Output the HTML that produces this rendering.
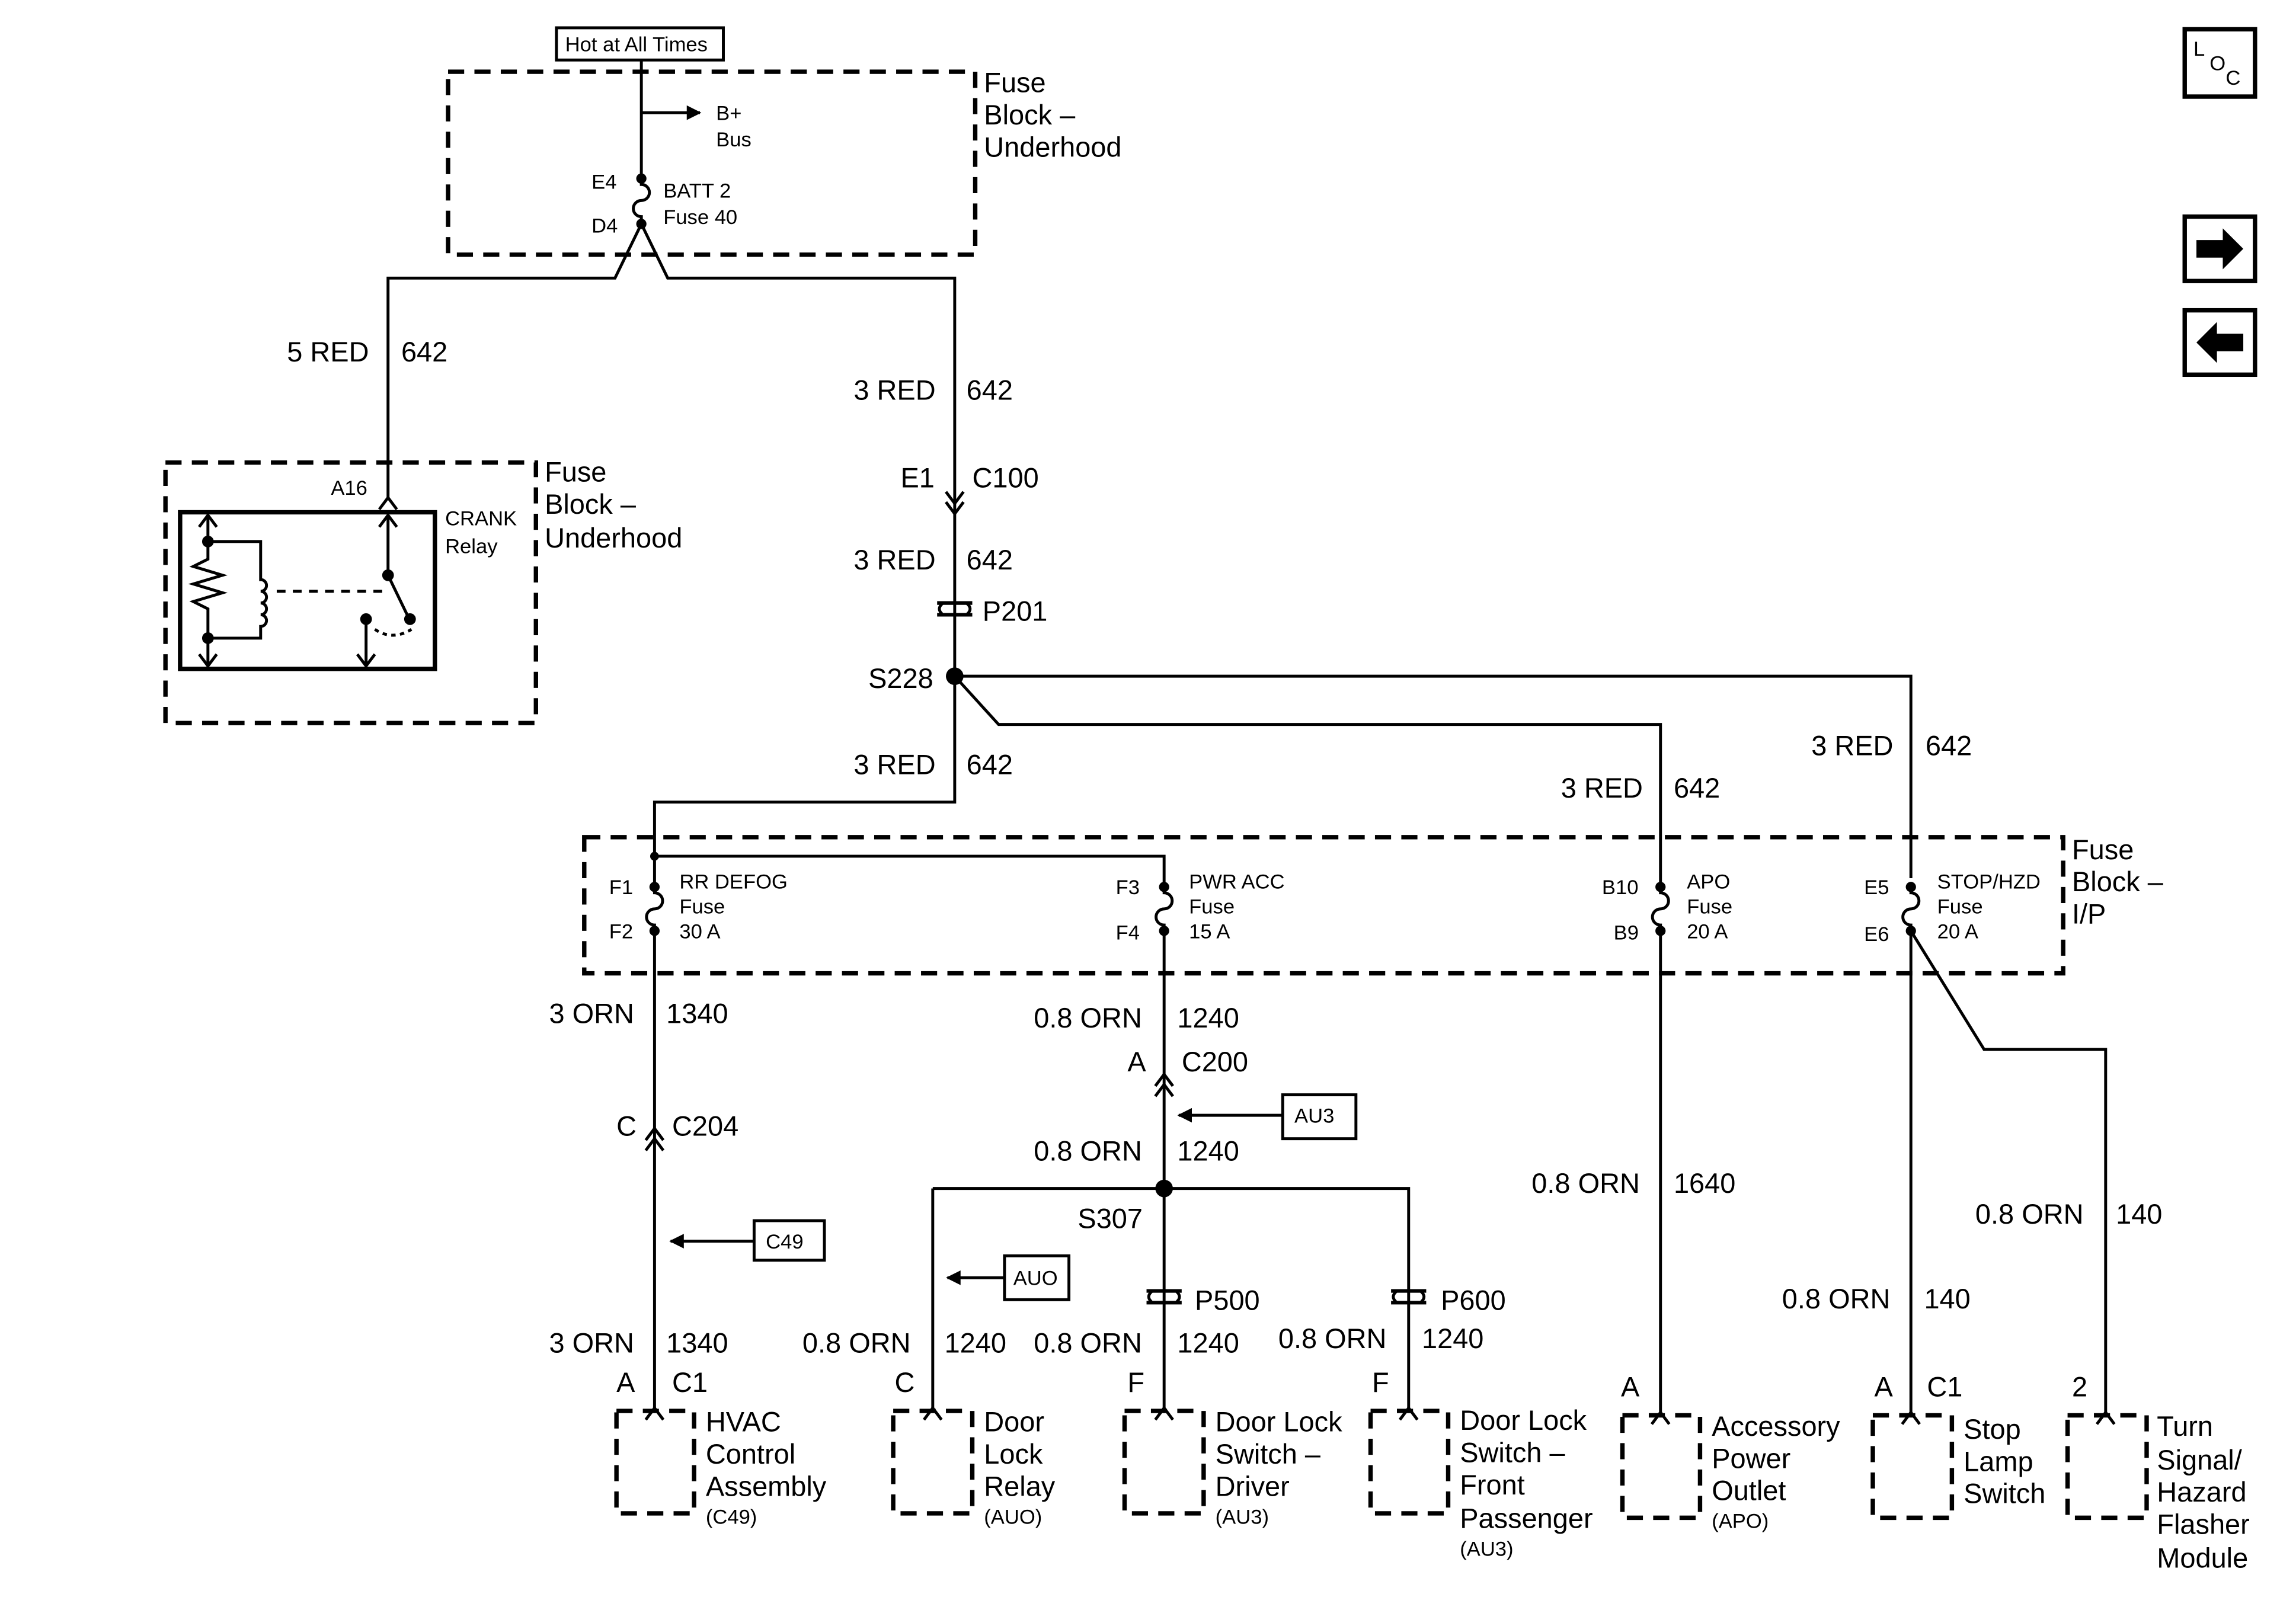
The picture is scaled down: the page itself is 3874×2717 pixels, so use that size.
<!DOCTYPE html>
<html><head><meta charset="utf-8"><style>
html,body{margin:0;padding:0;background:#fff}
svg{display:block}
text{font-family:"Liberation Sans",Arial,sans-serif;fill:#000}
.l{font-size:19px}.s{font-size:14px}
</style></head><body>
<svg width="3874" height="2717" viewBox="0 0 1568 1100" preserveAspectRatio="none" xmlns="http://www.w3.org/2000/svg">
<defs>
<marker id="ah" markerWidth="10" markerHeight="10" refX="9" refY="5" orient="auto" markerUnits="userSpaceOnUse"><path d="M0,0 L10,5 L0,10 z" fill="#000"/></marker>
</defs>
<rect width="1568" height="1100" fill="#fff"/>
<g fill="none" stroke="#000" stroke-width="2">
<g stroke-width="3" stroke-dasharray="11,7">
<rect x="306" y="49" width="360" height="125"/>
<rect x="113" y="316" width="253" height="178"/>
<rect x="399" y="572" width="1010" height="93"/>
<rect x="421" y="964" width="53" height="70"/>
<rect x="610" y="964" width="54" height="70"/>
<rect x="768" y="964" width="54" height="70"/>
<rect x="936" y="964" width="53" height="70"/>
<rect x="1108" y="967" width="53" height="70"/>
<rect x="1279" y="967" width="54" height="70"/>
<rect x="1412" y="967" width="54" height="70"/>
</g>
<rect x="380" y="19" width="114" height="22" stroke-width="2"/>
<path d="M438,41 V122"/>
<path d="M438,77 H478" marker-end="url(#ah)"/>
<path d="M438,122 v4 a5,5 0 0 1 0,11 a5,5 0 0 0 0,11 v5"/>
<path d="M438,153 L420,190 H265 V340"/>
<path d="M438,153 L456,190 H652 V462"/>
<path d="M259,348 L265,340 L271,348"/>
<path d="M646,336 L652,344 L658,336 M646,343 L652,351 L658,343"/>
<path d="M640,412 H664 M640,420 H664" stroke-width="2.5"/>
<path d="M644,412 q-5,4 0,8 M660,412 q5,4 0,8"/>
<rect x="123" y="350" width="174" height="107" stroke-width="3"/>
<path d="M142,352 V372 M142,432 V455"/>
<path d="M136,360 L142,352 L148,360 M136,447 L142,455 L148,447"/>
<path d="M142,372 V382 l-10,5 l20,6 l-20,6 l20,6 l-20,6 l10,5 V432"/>
<path d="M142,370 H178 V396 a4,4 0 0 1 0,8 a4,4 0 0 1 0,8 a4,4 0 0 1 0,8 a4,4 0 0 1 0,8 V436 H142"/>
<path d="M189,404 H262" stroke-dasharray="6,5"/>
<path d="M265,352 V393 L279,422"/>
<path d="M259,360 L265,352 L271,360"/>
<path d="M250,423 V455 M244,447 L250,455 L256,447"/>
<path d="M256,430 q12,8 25,0" stroke-dasharray="3,3"/>
<path d="M652,462 H1305 V600"/>
<path d="M652,462 L682,495 H1134 V603"/>
<path d="M652,462 V548 H447 V606"/>
<path d="M447,585 H795 V606"/>
<path d="M447,606 v4 a5,5 0 0 1 0,11 a5,5 0 0 0 0,11 v4"/>
<path d="M795,606 v4 a5,5 0 0 1 0,11 a5,5 0 0 0 0,11 v4"/>
<path d="M1134,606 v4 a5,5 0 0 1 0,11 a5,5 0 0 0 0,11 v4"/>
<path d="M1305,606 v4 a5,5 0 0 1 0,11 a5,5 0 0 0 0,11 v4"/>
<path d="M447,636 V962"/>
<path d="M795,636 V962"/>
<path d="M1134,636 V965"/>
<path d="M1305,636 V965"/>
<path d="M1305,636 L1355,717 H1438 V965"/>
<path d="M637,812 H962 V962 M637,812 V962"/>
<path d="M441,779 L447,771 L453,779 M441,786 L447,778 L453,786"/>
<path d="M789,742 L795,734 L801,742 M789,749 L795,741 L801,749"/>
<path d="M515,848 H458" marker-end="url(#ah)"/>
<rect x="515" y="834" width="48" height="27"/>
<path d="M876,762 H805" marker-end="url(#ah)"/>
<rect x="876" y="748" width="50" height="30"/>
<path d="M686,873 H647" marker-end="url(#ah)"/>
<rect x="686" y="858" width="44" height="30"/>
<path d="M783,882 H807 M783,890 H807 M950,882 H974 M950,890 H974" stroke-width="2.5"/>
<path d="M787,882 q-5,4 0,8 M803,882 q5,4 0,8 M954,882 q-5,4 0,8 M970,882 q5,4 0,8"/>
<path d="M441,970 L447,962 L453,970 M631,970 L637,962 L643,970 M789,970 L795,962 L801,970 M956,970 L962,962 L968,970 M1128,973 L1134,965 L1140,973 M1299,973 L1305,965 L1311,973 M1432,973 L1438,965 L1444,973"/>
<rect x="1492" y="20" width="48" height="46" stroke-width="3"/>
<rect x="1492" y="148" width="48" height="44" stroke-width="3"/>
<rect x="1492" y="212" width="48" height="44" stroke-width="3"/>
</g>
<g fill="#000">
<circle cx="438" cy="122" r="3.5"/><circle cx="438" cy="153" r="3.5"/>
<circle cx="142" cy="370" r="4"/><circle cx="142" cy="436" r="4"/>
<circle cx="265" cy="393" r="4"/><circle cx="250" cy="423" r="4"/><circle cx="280" cy="423" r="4"/>
<circle cx="652" cy="462" r="6"/><circle cx="795" cy="812" r="6"/>
<circle cx="447" cy="585" r="3"/>
<circle cx="447" cy="606" r="3.5"/><circle cx="447" cy="636" r="3.5"/>
<circle cx="795" cy="606" r="3.5"/><circle cx="795" cy="636" r="3.5"/>
<circle cx="1134" cy="606" r="3.5"/><circle cx="1134" cy="636" r="3.5"/>
<circle cx="1305" cy="606" r="3.5"/><circle cx="1305" cy="636" r="3.5"/>
<path d="M1500,164 H1518 V156 L1532,170 L1518,184 V176 H1500 z"/>
<path d="M1532,228 H1514 V220 L1500,234 L1514,248 V240 H1532 z"/>
</g>
<text class="s" x="386" y="35">Hot at All Times</text>
<text class="l" x="672" y="63">Fuse</text><text class="l" x="672" y="85">Block –</text><text class="l" x="672" y="107">Underhood</text>
<text class="s" x="489" y="82">B+</text><text class="s" x="489" y="100">Bus</text>
<text class="s" x="404" y="129">E4</text><text class="s" x="404" y="159">D4</text>
<text class="s" x="453" y="135">BATT 2</text><text class="s" x="453" y="153">Fuse 40</text>
<text class="l" x="196" y="247">5 RED</text><text class="l" x="274" y="247">642</text>
<text class="l" x="583" y="273">3 RED</text><text class="l" x="660" y="273">642</text>
<text class="s" x="226" y="338">A16</text>
<text class="l" x="372" y="329">Fuse</text><text class="l" x="372" y="351">Block –</text><text class="l" x="372" y="374">Underhood</text>
<text class="s" x="304" y="359">CRANK</text><text class="s" x="304" y="378">Relay</text>
<text class="l" x="615" y="333">E1</text><text class="l" x="664" y="333">C100</text>
<text class="l" x="583" y="389">3 RED</text><text class="l" x="660" y="389">642</text>
<text class="l" x="671" y="424">P201</text>
<text class="l" x="593" y="470">S228</text>
<text class="l" x="583" y="529">3 RED</text><text class="l" x="660" y="529">642</text>
<text class="l" x="1066" y="545">3 RED</text><text class="l" x="1143" y="545">642</text>
<text class="l" x="1237" y="516">3 RED</text><text class="l" x="1315" y="516">642</text>
<text class="l" x="1415" y="587">Fuse</text><text class="l" x="1415" y="609">Block –</text><text class="l" x="1415" y="631">I/P</text>
<text class="s" x="416" y="611">F1</text><text class="s" x="416" y="641">F2</text>
<text class="s" x="464" y="607">RR DEFOG</text><text class="s" x="464" y="624">Fuse</text><text class="s" x="464" y="641">30 A</text>
<text class="s" x="762" y="611">F3</text><text class="s" x="762" y="642">F4</text>
<text class="s" x="812" y="607">PWR ACC</text><text class="s" x="812" y="624">Fuse</text><text class="s" x="812" y="641">15 A</text>
<text class="s" x="1094" y="611">B10</text><text class="s" x="1102" y="642">B9</text>
<text class="s" x="1152" y="607">APO</text><text class="s" x="1152" y="624">Fuse</text><text class="s" x="1152" y="641">20 A</text>
<text class="s" x="1273" y="611">E5</text><text class="s" x="1273" y="643">E6</text>
<text class="s" x="1323" y="607">STOP/HZD</text><text class="s" x="1323" y="624">Fuse</text><text class="s" x="1323" y="641">20 A</text>
<text class="l" x="375" y="699">3 ORN</text><text class="l" x="455" y="699">1340</text>
<text class="l" x="706" y="702">0.8 ORN</text><text class="l" x="804" y="702">1240</text>
<text class="l" x="770" y="732">A</text><text class="l" x="807" y="732">C200</text>
<text class="s" x="884" y="767">AU3</text>
<text class="l" x="421" y="776">C</text><text class="l" x="459" y="776">C204</text>
<text class="l" x="706" y="793">0.8 ORN</text><text class="l" x="804" y="793">1240</text>
<text class="l" x="1046" y="815">0.8 ORN</text><text class="l" x="1143" y="815">1640</text>
<text class="l" x="1349" y="836">0.8 ORN</text><text class="l" x="1445" y="836">140</text>
<text class="l" x="736" y="839">S307</text>
<text class="s" x="523" y="853">C49</text>
<text class="s" x="692" y="878">AUO</text>
<text class="l" x="816" y="895">P500</text><text class="l" x="984" y="895">P600</text>
<text class="l" x="1217" y="894">0.8 ORN</text><text class="l" x="1314" y="894">140</text>
<text class="l" x="375" y="924">3 ORN</text><text class="l" x="455" y="924">1340</text>
<text class="l" x="548" y="924">0.8 ORN</text><text class="l" x="645" y="924">1240</text>
<text class="l" x="706" y="924">0.8 ORN</text><text class="l" x="804" y="924">1240</text>
<text class="l" x="873" y="921">0.8 ORN</text><text class="l" x="971" y="921">1240</text>
<text class="l" x="421" y="951">A</text><text class="l" x="459" y="951">C1</text>
<text class="l" x="611" y="951">C</text><text class="l" x="770" y="951">F</text><text class="l" x="937" y="951">F</text>
<text class="l" x="1107" y="954">A</text><text class="l" x="1280" y="954">A</text><text class="l" x="1316" y="954">C1</text><text class="l" x="1415" y="954">2</text>
<text class="l" x="482" y="978">HVAC</text><text class="l" x="482" y="1000">Control</text><text class="l" x="482" y="1022">Assembly</text><text class="s" x="482" y="1041">(C49)</text>
<text class="l" x="672" y="978">Door</text><text class="l" x="672" y="1000">Lock</text><text class="l" x="672" y="1022">Relay</text><text class="s" x="672" y="1041">(AUO)</text>
<text class="l" x="830" y="978">Door Lock</text><text class="l" x="830" y="1000">Switch –</text><text class="l" x="830" y="1022">Driver</text><text class="s" x="830" y="1041">(AU3)</text>
<text class="l" x="997" y="977">Door Lock</text><text class="l" x="997" y="999">Switch –</text><text class="l" x="997" y="1021">Front</text><text class="l" x="997" y="1044">Passenger</text><text class="s" x="997" y="1063">(AU3)</text>
<text class="l" x="1169" y="981">Accessory</text><text class="l" x="1169" y="1003">Power</text><text class="l" x="1169" y="1025">Outlet</text><text class="s" x="1169" y="1044">(APO)</text>
<text class="l" x="1341" y="983">Stop</text><text class="l" x="1341" y="1005">Lamp</text><text class="l" x="1341" y="1027">Switch</text>
<text class="l" x="1473" y="981">Turn</text><text class="l" x="1473" y="1004">Signal/</text><text class="l" x="1473" y="1026">Hazard</text><text class="l" x="1473" y="1048">Flasher</text><text class="l" x="1473" y="1071">Module</text>
<text class="s" x="1498" y="38">L</text><text class="s" x="1509" y="48">O</text><text class="s" x="1520" y="58">C</text>
</svg>
</body></html>
